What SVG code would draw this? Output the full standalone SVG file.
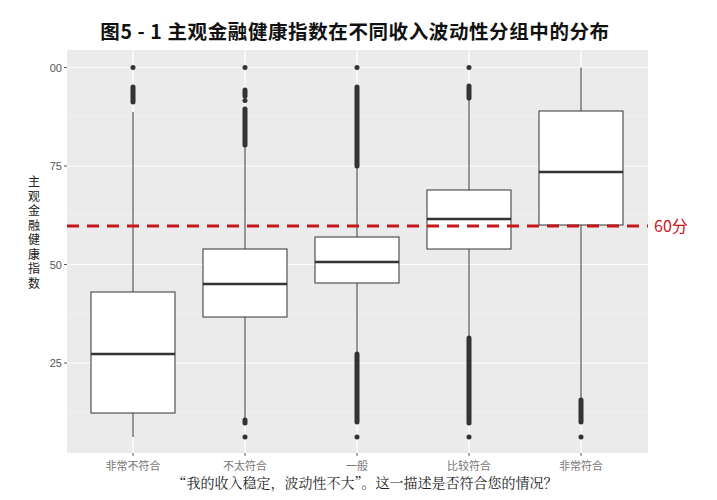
<svg xmlns="http://www.w3.org/2000/svg" width="717" height="500" viewBox="0 0 717 500">
<style>
.grid{stroke:#fff;stroke-width:1.2}
.gmin{stroke:#f4f4f4;stroke-width:0.6}
.box{fill:#fff;stroke:#333;stroke-width:1}
.med{stroke:#333;stroke-width:2.5}
.wh{stroke:#333;stroke-width:1}
.out{stroke:#333;stroke-width:5;stroke-linecap:round}
.pt{fill:#333}
.tick{stroke:#555;stroke-width:1}
.yl{font-family:"Liberation Sans",sans-serif;font-size:11px;fill:#555;text-anchor:end}
.xl{font-family:"Liberation Serif","Noto Sans CJK SC",serif;font-size:11px;fill:#777;text-anchor:middle}
.yt{font-family:"Noto Sans CJK SC",sans-serif;font-size:12px;fill:#222;text-anchor:middle}
</style>
<rect width="717" height="500" fill="#fff"/>
<text x="355" y="39" text-anchor="middle" font-family="'Noto Sans CJK SC',sans-serif" font-size="19.5" font-weight="bold" letter-spacing="0.6" fill="#111" xml:space="preserve">图5 - 1 主观金融健康指数在不同收入波动性分组中的分布</text>
<g id="panel">
<rect x="67" y="50" width="581" height="403" fill="#ebebeb"/>
<line class="gmin" x1="67" x2="648" y1="116.5" y2="116.5"/>
<line class="gmin" x1="67" x2="648" y1="215" y2="215"/>
<line class="gmin" x1="67" x2="648" y1="313.5" y2="313.5"/>
<line class="gmin" x1="67" x2="648" y1="412" y2="412"/>
<line class="grid" x1="67" x2="648" y1="67.5" y2="67.5"/>
<line class="grid" x1="67" x2="648" y1="166" y2="166"/>
<line class="grid" x1="67" x2="648" y1="264.5" y2="264.5"/>
<line class="grid" x1="67" x2="648" y1="363" y2="363"/>
<line class="grid" x1="133" x2="133" y1="50" y2="453"/>
<line class="grid" x1="245" x2="245" y1="50" y2="453"/>
<line class="grid" x1="357" x2="357" y1="50" y2="453"/>
<line class="grid" x1="469" x2="469" y1="50" y2="453"/>
<line class="grid" x1="581" x2="581" y1="50" y2="453"/>
</g>
<g id="axes">
<line class="tick" x1="64" x2="67" y1="67.5" y2="67.5"/><text class="yl" x="62" y="71.5">00</text>
<line class="tick" x1="64" x2="67" y1="166" y2="166"/><text class="yl" x="62" y="170">75</text>
<line class="tick" x1="64" x2="67" y1="264.5" y2="264.5"/><text class="yl" x="62" y="268.5">50</text>
<line class="tick" x1="64" x2="67" y1="363" y2="363"/><text class="yl" x="62" y="367">25</text>
<line class="tick" x1="133" x2="133" y1="453" y2="456"/><text class="xl" x="133" y="470">非常不符合</text>
<line class="tick" x1="245" x2="245" y1="453" y2="456"/><text class="xl" x="245" y="470">不太符合</text>
<line class="tick" x1="357" x2="357" y1="453" y2="456"/><text class="xl" x="357" y="470">一般</text>
<line class="tick" x1="469" x2="469" y1="453" y2="456"/><text class="xl" x="469" y="470">比较符合</text>
<line class="tick" x1="581" x2="581" y1="453" y2="456"/><text class="xl" x="581" y="470">非常符合</text>
<text x="365" y="488" text-anchor="middle" font-family="'Noto Serif CJK SC','Noto Sans CJK SC',serif" font-size="14" fill="#222">“我的收入稳定，波动性不大”。这一描述是否符合您的情况？</text>
<text class="yt" x="34" y="186">主</text><text class="yt" x="34" y="200.5">观</text><text class="yt" x="34" y="215">金</text><text class="yt" x="34" y="229.5">融</text><text class="yt" x="34" y="244">健</text><text class="yt" x="34" y="258.5">康</text><text class="yt" x="34" y="273">指</text><text class="yt" x="34" y="287.5">数</text>
</g>
<g id="box1">
<line class="wh" x1="133" x2="133" y1="112" y2="292"/><line class="wh" x1="133" x2="133" y1="413" y2="437"/>
<rect class="box" x="91" y="292" width="84" height="121"/><line class="med" x1="91" x2="175" y1="354" y2="354"/>
<circle class="pt" cx="133" cy="67.5" r="2.5"/><line class="out" x1="133" x2="133" y1="87" y2="102"/>
</g>
<g id="box2">
<line class="wh" x1="245" x2="245" y1="147" y2="249"/><line class="wh" x1="245" x2="245" y1="317" y2="420"/>
<rect class="box" x="203" y="249" width="84" height="68"/><line class="med" x1="203" x2="287" y1="284" y2="284"/>
<circle class="pt" cx="245" cy="67.5" r="2.5"/><line class="out" x1="245" x2="245" y1="90" y2="96"/><circle class="pt" cx="245" cy="100.5" r="2.5"/><line class="out" x1="245" x2="245" y1="109" y2="145"/>
<line class="out" x1="245" x2="245" y1="420" y2="423"/><circle class="pt" cx="245" cy="437" r="2.5"/>
</g>
<g id="box3">
<line class="wh" x1="357" x2="357" y1="168" y2="237"/><line class="wh" x1="357" x2="357" y1="283" y2="353"/>
<rect class="box" x="315" y="237" width="84" height="46"/><line class="med" x1="315" x2="399" y1="262" y2="262"/>
<circle class="pt" cx="357" cy="67.5" r="2.5"/><line class="out" x1="357" x2="357" y1="87" y2="166"/>
<line class="out" x1="357" x2="357" y1="354" y2="422"/><circle class="pt" cx="357" cy="437" r="2.5"/>
</g>
<g id="box4">
<line class="wh" x1="469" x2="469" y1="99" y2="190"/><line class="wh" x1="469" x2="469" y1="249" y2="337"/>
<rect class="box" x="427" y="190" width="84" height="59"/><line class="med" x1="427" x2="511" y1="219" y2="219"/>
<circle class="pt" cx="469" cy="67.5" r="2.5"/><line class="out" x1="469" x2="469" y1="86" y2="98"/>
<line class="out" x1="469" x2="469" y1="338" y2="423"/><circle class="pt" cx="469" cy="437" r="2.5"/>
</g>
<g id="box5">
<line class="wh" x1="581" x2="581" y1="67.5" y2="111"/><line class="wh" x1="581" x2="581" y1="225" y2="399"/>
<rect class="box" x="539" y="111" width="84" height="114"/><line class="med" x1="539" x2="623" y1="172" y2="172"/>
<line class="out" x1="581" x2="581" y1="400" y2="422"/><circle class="pt" cx="581" cy="437" r="2.5"/>
</g>
<g id="ref">
<line x1="67" x2="648" y1="226" y2="226" stroke="#c8161d" stroke-width="3" stroke-dasharray="12,8"/>
<text x="654" y="232" font-family="'Noto Sans CJK SC',sans-serif" font-size="16" fill="#c8161d">60分</text>
</g>
</svg>
